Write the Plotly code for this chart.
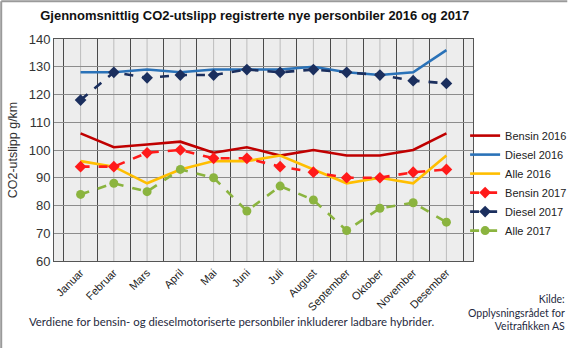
import plotly.graph_objects as go

# Months and average CO2 emissions (g/km) of newly registered passenger cars
months = ["Januar", "Februar", "Mars", "April", "Mai", "Juni", "Juli",
          "August", "September", "Oktober", "November", "Desember"]

bensin_2016 = [106, 101, 102, 103, 99, 101, 98, 100, 98, 98, 100, 106]
diesel_2016 = [128, 128, 129, 128, 129, 129, 129, 130, 128, 127, 128, 136]
alle_2016 = [96, 94, 88, 93, 96, 96, 98, 93, 88, 90, 88, 98]
bensin_2017 = [94, 94, 99, 100, 97, 97, 94, 92, 90, 90, 92, 93]
diesel_2017 = [118, 128, 126, 127, 127, 129, 128, 129, 128, 127, 125, 124]
alle_2017 = [84, 88, 85, 93, 90, 78, 87, 82, 71, 79, 81, 74]

y_ticks = [60, 70, 80, 90, 100, 110, 120, 130, 140]

series = [
    ("Bensin 2016", bensin_2016, "#C00000", "solid", None),
    ("Diesel 2016", diesel_2016, "#2A72B8", "solid", None),
    ("Alle 2016", alle_2016, "#FFBE00", "solid", None),
    ("Bensin 2017", bensin_2017, "#FF1A1A", "dash", "diamond"),
    ("Diesel 2017", diesel_2017, "#1B2F5E", "dash", "diamond"),
    ("Alle 2017", alle_2017, "#8BB43F", "dash", "circle"),
]

fig = go.Figure()
for name, vals, color, dash, symbol in series:
    fig.add_trace(go.Scatter(
        x=months, y=vals, name=name,
        mode="lines+markers" if symbol else "lines",
        line=dict(color=color, width=2.6, dash=dash),
        marker=dict(symbol=symbol or "circle", size=9, color=color),
    ))

# light vertical guide through the centre of each month
for m in months:
    fig.add_shape(type="line", xref="x", yref="y domain",
                  x0=m, x1=m, y0=0, y1=1, layer="below",
                  line=dict(color="#BDBDBD", width=1))

fig.update_layout(
    width=570, height=348,
    margin=dict(l=54, r=97, t=39, b=87, autoexpand=False),
    paper_bgcolor="white",
    plot_bgcolor="#EDEDED",
    font=dict(family="Liberation Sans, Arial, sans-serif", color="#333333"),
    title=dict(
        text="<b>Gjennomsnittlig CO2-utslipp registrerte nye personbiler 2016 og 2017</b>",
        x=0.447, xanchor="center", y=0.955, yanchor="middle",
        font=dict(size=13, color="#111111"),
    ),
    showlegend=True,
    legend=dict(
        xref="container", yref="container",
        x=0.816, xanchor="left", y=0.652, yanchor="top",
        bgcolor="rgba(0,0,0,0)",
        font=dict(size=11, color="#222222"),
        tracegroupgap=0, itemwidth=30,
    ),
    # month labels centred, darker grid on the month boundaries
    xaxis=dict(
        type="category", categoryorder="array", categoryarray=months,
        tickson="boundaries",
        tickangle=-45, tickfont=dict(size=11, color="#222222"),
        showgrid=True, gridcolor="#4A4A4A", gridwidth=1,
        showline=True, linecolor="#555555", linewidth=1, mirror=True,
        ticks="", zeroline=False,
    ),
    yaxis=dict(
        range=[60, 140],
        tickmode="array", tickvals=y_ticks,
        tickfont=dict(size=13, color="#333333"),
        showgrid=True, gridcolor="#8C8C8C", gridwidth=1,
        showline=True, linecolor="#555555", linewidth=1, mirror=True,
        ticks="", zeroline=False,
        title=dict(text="CO2-utslipp g/km", font=dict(size=12.5, color="#333333"), standoff=8),
    ),
)

# Footnote and source
fig.add_annotation(
    text="Verdiene for bensin- og dieselmotoriserte personbiler inkluderer ladbare hybrider.",
    xref="paper", yref="paper", x=-0.064, y=-0.232, xanchor="left", yanchor="top",
    showarrow=False, font=dict(family="Lato, sans-serif", size=11.4, color="#1F2A40"),
)
fig.add_annotation(
    text="Kilde:<br>Opplysningsrådet for<br>Veitrafikken AS",
    xref="paper", yref="paper", x=1.225, y=-0.135, xanchor="right", yanchor="top",
    align="right", showarrow=False,
    font=dict(family="Lato, sans-serif", size=10.5, color="#1F2A40"),
)

# Thin grey frame along the top and left edges of the canvas
fig.add_shape(type="line", xref="paper", yref="paper",
              x0=-0.126, x1=1.225, y0=1.17, y1=1.17,
              line=dict(color="#9A9A9A", width=2))
fig.add_shape(type="line", xref="paper", yref="paper",
              x0=-0.126, x1=-0.126, y0=1.17, y1=-0.40,
              line=dict(color="#9A9A9A", width=2))

fig.write_html("out.html")
